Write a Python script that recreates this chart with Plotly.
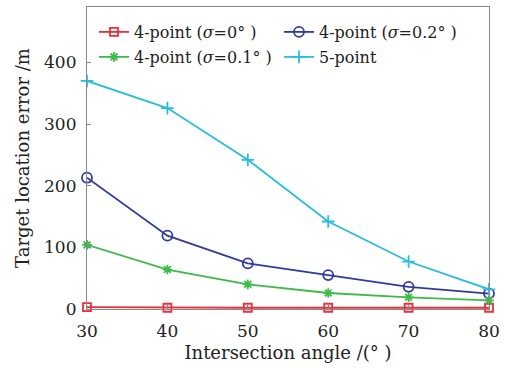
import plotly.graph_objects as go

angles = [30, 40, 50, 60, 70, 80]
err_4p_s0 = [3, 2, 2, 2, 2, 2]
err_4p_s02 = [213, 119, 74, 55, 36, 25]
err_4p_s01 = [104, 64, 40, 26, 19, 14]
err_5p = [370, 326, 242, 142, 77, 32]

names = ["4-point (<i>σ</i>=0° )", "4-point (<i>σ</i>=0.2° )",
         "4-point (<i>σ</i>=0.1° )", "5-point"]
colors = ["#ec2f3b", "#2f3b9e", "#3dbb49", "#26bde0"]
symbols = ["square-open", "circle-open", "asterisk-open", "cross-thin-open"]
sizes = [8, 10, 8, 9]
legend_ids = ["legend", "legend", "legend2", "legend2"]
series = [err_4p_s0, err_4p_s02, err_4p_s01, err_5p]

FONT = "DejaVu Serif"

fig = go.Figure()
for name, col, sym, sz, lg, ys in zip(names, colors, symbols, sizes, legend_ids, series):
    fig.add_trace(go.Scatter(
        x=angles, y=ys, name=name, mode="lines+markers", legend=lg,
        line=dict(color=col, width=1.8),
        marker=dict(symbol=sym, size=sz, color=col, line=dict(color=col, width=1.8)),
        cliponaxis=False,
    ))

legend_common = dict(
    orientation="h", xanchor="left", yanchor="top",
    entrywidth=140, entrywidthmode="pixels",
    font=dict(family=FONT, size=16, color="#222"),
    bgcolor="rgba(0,0,0,0)", itemwidth=30,
)

fig.update_layout(
    width=510, height=368,
    margin=dict(l=87, r=21, t=7, b=59),
    paper_bgcolor="white", plot_bgcolor="white",
    font=dict(family=FONT, size=17, color="#222"),
    showlegend=True,
    legend=dict(x=0.0174, y=0.9735, **legend_common),
    legend2=dict(x=0.0174, y=0.8907, **legend_common),
    xaxis=dict(
        range=[30, 80], tickvals=angles, ticks="inside", ticklen=4,
        tickcolor="#888", showline=True, linecolor="#888", linewidth=1.2,
        mirror=True, showgrid=False, zeroline=False, ticklabelstandoff=6,
        title=dict(text="Intersection angle /(° )", font=dict(size=18), standoff=6),
        tickfont=dict(size=17),
    ),
    yaxis=dict(
        range=[0, 490], tickvals=[0, 100, 200, 300, 400], ticks="inside", ticklen=4,
        tickcolor="#888", showline=True, linecolor="#888", linewidth=1.2,
        mirror=True, showgrid=False, zeroline=False, ticklabelstandoff=6,
        title=dict(text="Target location error /m", font=dict(size=18), standoff=9),
        tickfont=dict(size=17),
    ),
)

fig.write_html("out.html")
